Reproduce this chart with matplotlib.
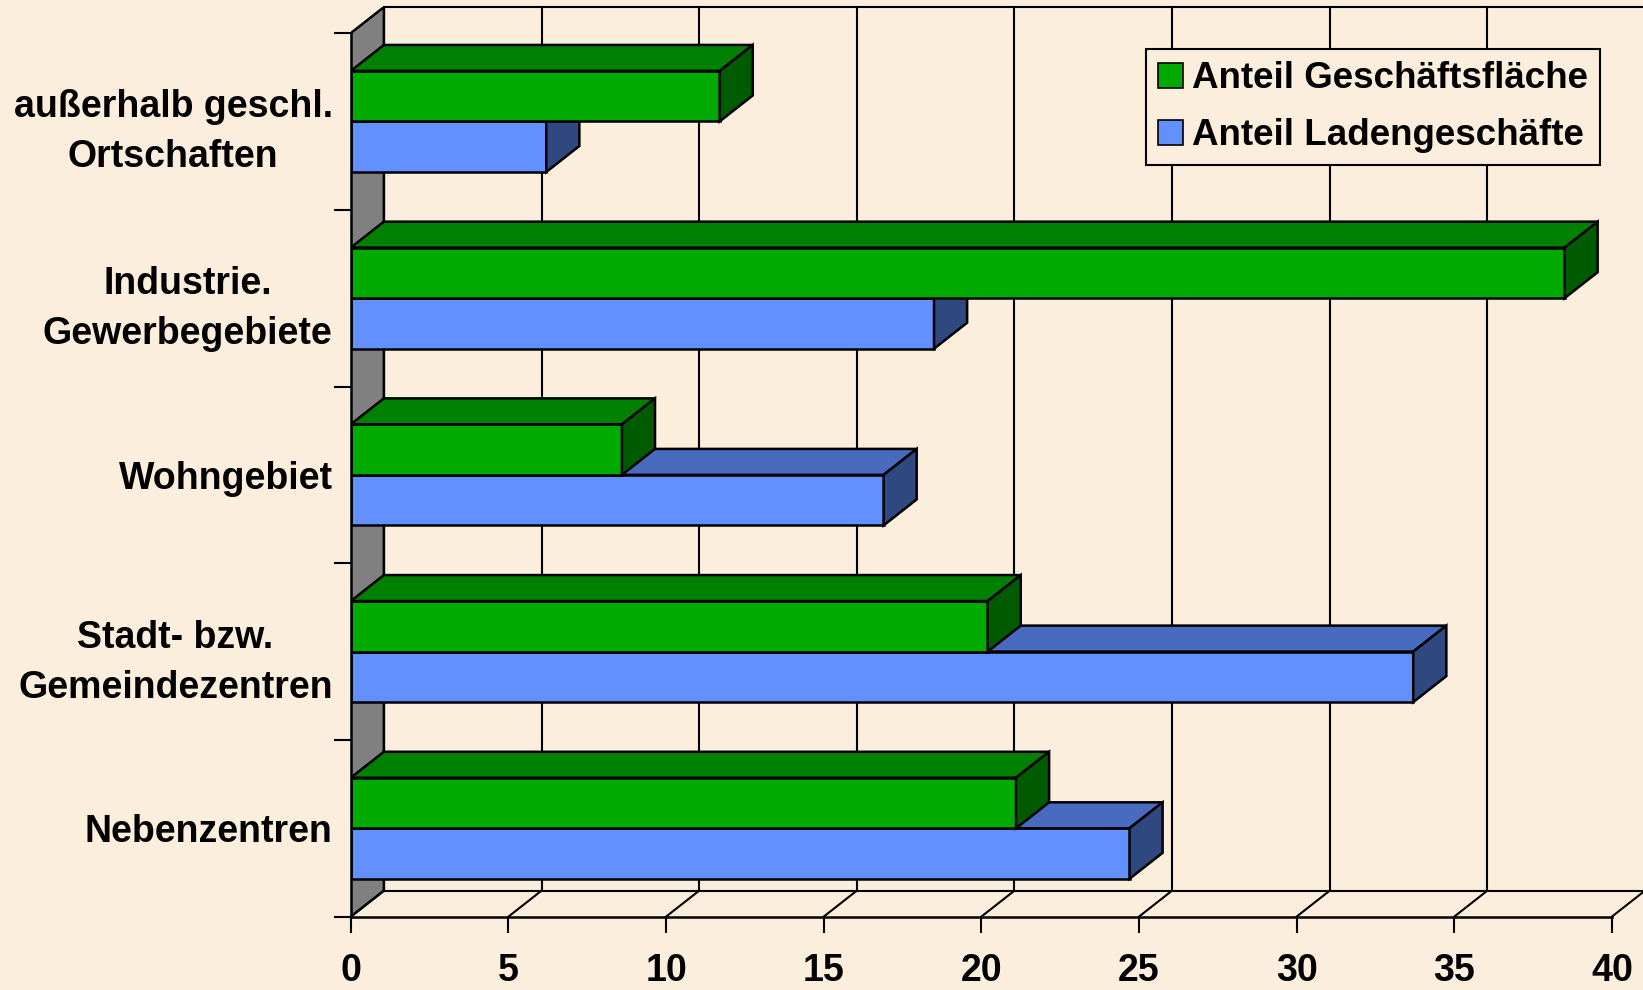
import matplotlib.pyplot as plt
from matplotlib.patches import Patch

plt.rcParams["font.family"] = ["Liberation Sans", "DejaVu Sans"]
plt.rcParams["font.weight"] = "bold"

# ==== Data (bottom to top) ====
categories = ["Nebenzentren", "Stadt- bzw.\nGemeindezentren", "Wohngebiet",
              "Industrie.\nGewerbegebiete", "außerhalb geschl.\nOrtschaften"]
flaeche = [21.1, 20.2, 8.6, 38.5, 11.7]   # Anteil Geschäftsfläche
laden = [24.7, 33.7, 16.9, 18.5, 6.2]     # Anteil Ladengeschäfte
xticks = [0, 5, 10, 15, 20, 25, 30, 35, 40]

# ==== Style ====
BG = "#FCEEDC"
GREEN = ("#00AA00", "#008000", "#005A00")   # front, top, side
BLUE = ("#6390FF", "#486BC0", "#2F4880")
DX, DY = 1.05, 0.147    # depth of the fake 3d
H = 0.286               # bar height
LW = 1.8
FS = 27
n = len(categories)
xmax = xticks[-1]

fig = plt.figure(figsize=(16.43, 9.90), dpi=100, facecolor=BG)
ax = fig.add_axes([0.2135, 0.0741, 0.7877, 0.9187])
ax.set_facecolor(BG)
ax.set_xlim(0, xmax + DX)
ax.set_ylim(0, n + DY)

# left wall
ax.fill([0, DX, DX, 0], [0, DY, n + DY, n], facecolor="#808080",
        edgecolor="black", lw=LW, zorder=1)
# back wall grid + floor
for v in xticks:
    ax.plot([v + DX, v + DX], [DY, n + DY], color="black", lw=1.5, zorder=1, clip_on=False)
    ax.plot([v, v + DX], [0, DY], color="black", lw=1.5, zorder=1, clip_on=False)
ax.plot([DX, xmax + DX], [n + DY, n + DY], color="black", lw=1.5, zorder=1, clip_on=False)
ax.plot([DX, xmax + DX], [DY, DY], color="black", lw=1.5, zorder=1, clip_on=False)


def box(y0, val, cols, z):
    front, top, side = cols
    ax.barh(y0, val, height=H, left=0, align="edge", color=front,
            edgecolor="black", lw=LW, zorder=z)
    ax.fill([0, val, val + DX, DX], [y0 + H, y0 + H, y0 + H + DY, y0 + H + DY],
            facecolor=top, edgecolor="black", lw=LW, zorder=z)
    ax.fill([val, val + DX, val + DX, val], [y0, y0 + DY, y0 + H + DY, y0 + H],
            facecolor=side, edgecolor="black", lw=LW, zorder=z)


for i in range(n):
    box(i + 0.5 - H, laden[i], BLUE, 3)
    box(i + 0.5, flaeche[i], GREEN, 4)

for s in ["top", "right"]:
    ax.spines[s].set_visible(False)
ax.spines["left"].set_bounds(0, n)
ax.spines["bottom"].set_bounds(0, xmax)
for s in ["left", "bottom"]:
    ax.spines[s].set_linewidth(LW)
    ax.spines[s].set_zorder(5)

ax.set_xticks(xticks)
ax.tick_params(axis="x", length=11.5, width=1.5, pad=14.5, labelsize=FS)
ax.set_yticks([i + 0.5 for i in range(n)], categories)
ax.set_yticks(range(n + 1), minor=True)
ax.tick_params(axis="y", which="major", length=0, pad=13, labelsize=FS)
ax.tick_params(axis="y", which="minor", length=12, width=1.5)
for lbl in ax.get_yticklabels():
    lbl.set_multialignment("center")
    lbl.set_linespacing(1.5)

handles = [Patch(facecolor=GREEN[0], edgecolor="black", lw=1.2),
           Patch(facecolor=BLUE[0], edgecolor="black", lw=1.2)]
leg = fig.legend(handles, ["Anteil Geschäftsfläche", "Anteil Ladengeschäfte"],
                 loc="upper right", bbox_to_anchor=(1600 / 1643, 1 - 49.3 / 990),
                 bbox_transform=fig.transFigure, borderaxespad=0,
                 prop={"size": 26.5, "weight": "bold"}, fancybox=False,
                 framealpha=1, facecolor=BG, edgecolor="black",
                 handlelength=0.68, handleheight=0.68, handletextpad=0.25,
                 borderpad=0.32, labelspacing=0.6)
leg.get_frame().set_linewidth(1.5)

plt.savefig("out.png", dpi=100, facecolor=BG)
plt.close()
